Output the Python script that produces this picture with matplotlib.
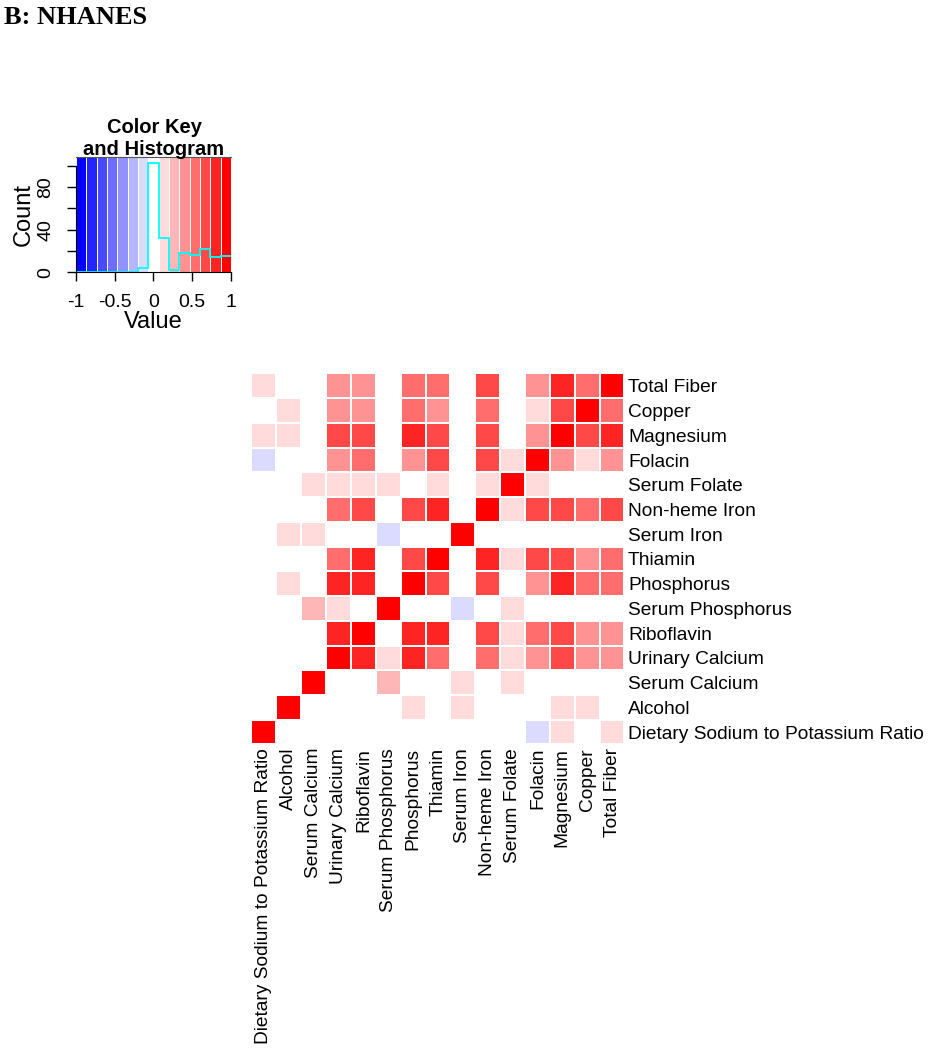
import matplotlib
matplotlib.use('Agg')
import matplotlib.pyplot as plt
import numpy as np
from matplotlib.colors import ListedColormap, BoundaryNorm

# variables, left to right on x (bottom to top on y)
variables = ['Dietary Sodium to Potassium Ratio', 'Alcohol', 'Serum Calcium',
             'Urinary Calcium', 'Riboflavin', 'Serum Phosphorus', 'Phosphorus',
             'Thiamin', 'Serum Iron', 'Non-heme Iron', 'Serum Folate', 'Folacin',
             'Magnesium', 'Copper', 'Total Fiber']

# estimated correlations, row i / column j in the order above
corr = [
    [1.00, 0, 0, 0, 0, 0, 0, 0, 0, 0, 0, -0.13, 0.13, 0, 0.13],
    [0, 1.00, 0, 0, 0, 0, 0.13, 0, 0.13, 0, 0, 0, 0.13, 0.13, 0],
    [0, 0, 1.00, 0, 0, 0.27, 0, 0, 0.13, 0, 0.13, 0, 0, 0, 0],
    [0, 0, 0, 1.00, 0.80, 0.13, 0.80, 0.53, 0, 0.53, 0.13, 0.40, 0.67, 0.40, 0.40],
    [0, 0, 0, 0.80, 1.00, 0, 0.80, 0.80, 0, 0.67, 0.13, 0.53, 0.67, 0.40, 0.40],
    [0, 0, 0.27, 0.13, 0, 1.00, 0, 0, -0.13, 0, 0.13, 0, 0, 0, 0],
    [0, 0.13, 0, 0.80, 0.80, 0, 1.00, 0.67, 0, 0.67, 0, 0.40, 0.80, 0.53, 0.53],
    [0, 0, 0, 0.53, 0.80, 0, 0.67, 1.00, 0, 0.80, 0.13, 0.67, 0.67, 0.40, 0.53],
    [0, 0.13, 0.13, 0, 0, -0.13, 0, 0, 1.00, 0, 0, 0, 0, 0, 0],
    [0, 0, 0, 0.53, 0.67, 0, 0.67, 0.80, 0, 1.00, 0.13, 0.67, 0.67, 0.53, 0.67],
    [0, 0, 0.13, 0.13, 0.13, 0.13, 0, 0.13, 0, 0.13, 1.00, 0.13, 0, 0, 0],
    [-0.13, 0, 0, 0.40, 0.53, 0, 0.40, 0.67, 0, 0.67, 0.13, 1.00, 0.40, 0.13, 0.40],
    [0.13, 0.13, 0, 0.67, 0.67, 0, 0.80, 0.67, 0, 0.67, 0, 0.40, 1.00, 0.67, 0.80],
    [0, 0.13, 0, 0.40, 0.40, 0, 0.53, 0.40, 0, 0.53, 0, 0.13, 0.67, 1.00, 0.53],
    [0.13, 0, 0, 0.40, 0.40, 0, 0.53, 0.53, 0, 0.67, 0, 0.40, 0.80, 0.53, 1.00],
]
corr = np.array(corr)

# gplots bluered(15)
n_col = 15
levels = np.linspace(0, 1, n_col)
cols = []
for t in levels:
    if t <= 0.5:
        f = t / 0.5
        cols.append((f, f, 1.0))
    else:
        f = (1 - t) / 0.5
        cols.append((1.0, f, f))
breaks = np.linspace(-1, 1, n_col + 1)
cmap = ListedColormap(cols)
norm = BoundaryNorm(breaks, n_col)

SANS = 'Liberation Sans'

fig = plt.figure(figsize=(9.29, 10.5), dpi=100)
fig.text(0.004, 0.983, 'B: NHANES', family='Liberation Serif', fontweight='bold',
         fontsize=19, ha='left', va='center')

# heatmap
ax = fig.add_axes([0.2707, 0.2910, 0.4015, 0.3533])
ax.pcolormesh(corr, cmap=cmap, norm=norm, edgecolors='white', linewidth=1.1)
ax.set_xlim(0, len(variables))
ax.set_ylim(0, len(variables))
ax.set_xticks(np.arange(len(variables)) + 0.5)
ax.set_xticklabels(variables, rotation=90, family=SANS, fontsize=13.8)
ax.yaxis.tick_right()
ax.set_yticks(np.arange(len(variables)) + 0.5)
ax.set_yticklabels(variables, family=SANS, fontsize=13.8)
ax.tick_params(length=0, pad=2.5)
for s in ax.spines.values():
    s.set_visible(False)

# color key with histogram
kax = fig.add_axes([0.0818, 0.7407, 0.1668, 0.1098])
ymax = 108
kax.pcolormesh(breaks, [0, ymax], np.array([(breaks[:-1] + breaks[1:]) / 2]),
               cmap=cmap, norm=norm, edgecolors='white', linewidth=0.5)
counts, _ = np.histogram(corr.ravel(), bins=breaks)
kax.stairs(counts, breaks, color='cyan', linewidth=1.3, baseline=None)
kax.set_xlim(-1, 1)
kax.set_ylim(0, ymax)
kax.set_xticks([-1, -0.5, 0, 0.5, 1])
kax.set_xticklabels(['-1', '-0.5', '0', '0.5', '1'], family=SANS, fontsize=14)
kax.set_yticks([0, 20, 40, 60, 80, 100])
kax.set_yticklabels(['0', '', '40', '', '80', ''], family=SANS, fontsize=14,
                    rotation=90, va='center')
kax.tick_params(length=6.5, width=1, direction='out', pad=9)
kax.spines['right'].set_visible(False)
kax.spines['left'].set_bounds(0, 100)
kax.spines['top'].set_color('#555555')
kax.set_xlabel('Value', family=SANS, fontsize=17, labelpad=0)
kax.set_ylabel('Count', family=SANS, fontsize=17, labelpad=2)
fig.text(0.1658, 0.8735, 'Color Key', family=SANS, fontweight='bold', fontsize=14.5,
         ha='center', va='baseline')
fig.text(0.1658, 0.8525, 'and Histogram', family=SANS, fontweight='bold', fontsize=14.5,
         ha='center', va='baseline')

fig.savefig('out.png', dpi=100)
